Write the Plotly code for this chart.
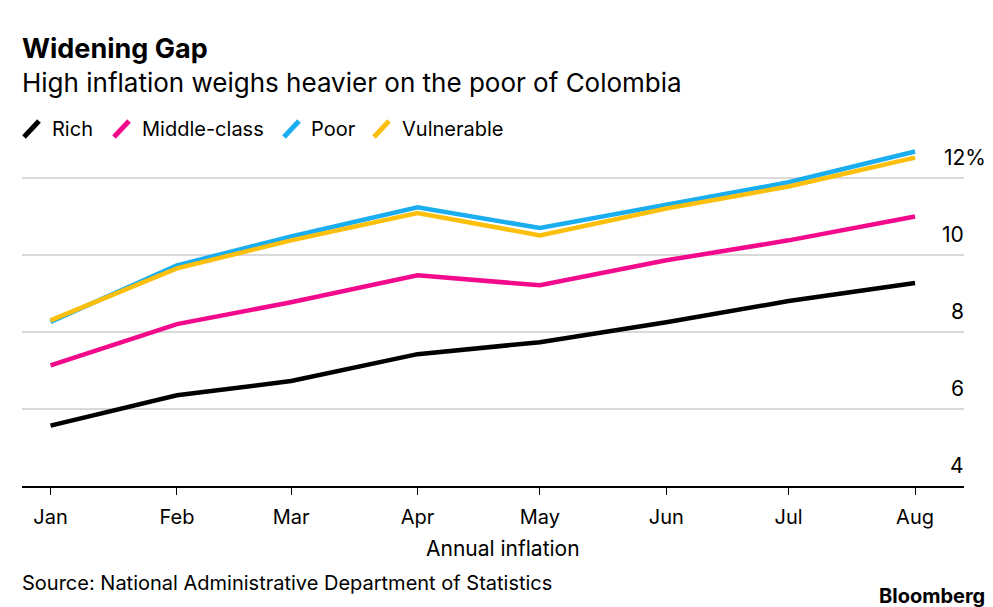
import plotly.graph_objects as go

months = ["2022-01-01", "2022-02-01", "2022-03-01", "2022-04-01",
          "2022-05-01", "2022-06-01", "2022-07-01", "2022-08-01"]
rich = [5.57, 6.36, 6.73, 7.43, 7.74, 8.26, 8.81, 9.28]
middle = [7.14, 8.21, 8.78, 9.48, 9.22, 9.87, 10.39, 11.01]
poor = [8.27, 9.74, 10.49, 11.25, 10.71, 11.32, 11.90, 12.70]
vulnerable = [8.31, 9.66, 10.39, 11.10, 10.52, 11.22, 11.79, 12.54]

series_names = ["Rich", "Middle-class", "Poor", "Vulnerable"]
series_values = [rich, middle, poor, vulnerable]
colors = ["#000000", "#f2098c", "#1aaef0", "#fbbf0c"]

y_ticks = [4, 6, 8, 10, 12]
y_tick_labels = ["4", "6", "8", "10", "12%"]

FONT = "Inter"

W, H = 993, 607
ml, mr, mt, mb = 22, 29, 140, 121
PW = W - ml - mr
PH = H - mt - mb


def px(x):
    return (x - ml) / PW


def py(y):
    return (H - mb - y) / PH


fig = go.Figure()
for name, vals, col in zip(series_names, series_values, colors):
    fig.add_trace(go.Scatter(x=months, y=vals, mode="lines", name=name,
                             line=dict(color=col, width=4.5),
                             showlegend=False))

fig.update_layout(
    width=W, height=H,
    margin=dict(l=ml, r=mr, t=mt, b=mb, autoexpand=False),
    paper_bgcolor="white", plot_bgcolor="white",
    font=dict(family=FONT, color="#000000"),
    xaxis=dict(
        type="date",
        range=["2021-12-25", "2022-08-13"],
        tickvals=months,
        tickformat="%b",
        ticks="outside", ticklen=7, tickcolor="#000000", tickwidth=1,
        showline=True, linecolor="#000000", linewidth=1.5,
        showgrid=False, zeroline=False,
        tickfont=dict(size=20, family=FONT),
        ticklabelstandoff=5,
    ),
    yaxis=dict(
        range=[4, 13],
        tickvals=y_ticks,
        showticklabels=False,
        showgrid=True, gridcolor="#d9d9d9", gridwidth=1.5,
        zeroline=False, showline=False,
    ),
)

# y tick labels placed via the y scale, above each gridline, right-aligned
for v, lab in zip(y_ticks, y_tick_labels):
    extra = 22 if lab.endswith("%") else 0
    fig.add_annotation(x=1, xref="paper", y=v, yref="y", text=lab,
                       showarrow=False, xanchor="right", yanchor="middle",
                       xshift=2 + extra, yshift=21,
                       font=dict(size=21, family=FONT))

# x-axis title
fig.add_annotation(x=px(503), y=py(548), xref="paper", yref="paper",
                   text="Annual inflation", showarrow=False,
                   xanchor="center", yanchor="middle",
                   font=dict(size=21, family=FONT))

# Title and subtitle
fig.add_annotation(x=px(20), y=py(48), xref="paper", yref="paper",
                   text="<b>Widening Gap</b>", showarrow=False,
                   xanchor="left", yanchor="middle",
                   font=dict(size=27, family=FONT))
fig.add_annotation(x=px(20), y=py(83), xref="paper", yref="paper",
                   text="High inflation weighs heavier on the poor of Colombia",
                   showarrow=False, xanchor="left", yanchor="middle",
                   font=dict(size=26, family=FONT))

# Custom legend with slanted strokes
legend_stroke_x = [23, 113, 283, 373]
legend_text_x = [50, 140, 309, 400]
for name, col, sx, tx in zip(series_names, colors, legend_stroke_x, legend_text_x):
    fig.add_shape(type="line", xref="paper", yref="paper",
                  x0=px(sx + 1), y0=py(137), x1=px(sx + 16), y1=py(121),
                  line=dict(color=col, width=5))
    fig.add_annotation(x=px(tx), y=py(129), xref="paper", yref="paper",
                       text=name, showarrow=False, xanchor="left", yanchor="middle",
                       font=dict(size=20, family=FONT))

# Source and logo
fig.add_annotation(x=px(20), y=py(583), xref="paper", yref="paper",
                   text="Source: National Administrative Department of Statistics",
                   showarrow=False, xanchor="left", yanchor="middle",
                   font=dict(size=20, family=FONT))
fig.add_annotation(x=px(987), y=py(596), xref="paper", yref="paper",
                   text="<b>Bloomberg</b>", showarrow=False,
                   xanchor="right", yanchor="middle",
                   font=dict(size=20, family=FONT))

fig.write_html("out.html", config={"displayModeBar": False},
               post_script="document.body.style.margin='0';")
